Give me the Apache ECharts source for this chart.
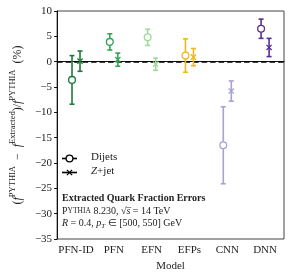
<!DOCTYPE html>
<html><head><meta charset="utf-8">
<script src="https://cdn.jsdelivr.net/npm/echarts@6/dist/echarts.min.js"></script>
<style>html,body{margin:0;padding:0;background:#fff}#c{width:295px;height:277px}</style>
</head><body><div id="c"></div>
<script>
const categories = ['PFN-ID', 'PFN', 'EFN', 'EFPs', 'CNN', 'DNN'];
const colors = ['#1b7a3a', '#35a354', '#a1d99b', '#f0b818', '#a6a3d4', '#58308f'];
const dijetVals = [-3.6, 3.9, 4.8, 1.2, -16.5, 6.5];
const dijetErr = [4.8, 1.6, 1.6, 3.3, 7.6, 1.9];
const zjetVals = [0.1, 0.4, -0.5, 0.9, -5.8, 2.8];
const zjetErr = [2.0, 1.3, 1.2, 1.7, 2.0, 1.8];
const yMin = -35, yMax = 10, yStep = 5;

const FONT = 'Liberation Serif';

function makeRender(offset, marker) {
  return function (params, api) {
    const ci = api.value(0);
    const c = api.coord([ci, api.value(1)]);
    const lo = api.coord([ci, api.value(2)]);
    const hi = api.coord([ci, api.value(3)]);
    const x = c[0] + offset;
    const col = colors[ci];
    const cap = 2.5;
    const ls = { stroke: col, lineWidth: 1.6 };
    const kids = [
      { type: 'line', shape: { x1: x, y1: lo[1], x2: x, y2: hi[1] }, style: ls },
      { type: 'line', shape: { x1: x - cap, y1: lo[1], x2: x + cap, y2: lo[1] }, style: ls },
      { type: 'line', shape: { x1: x - cap, y1: hi[1], x2: x + cap, y2: hi[1] }, style: ls }
    ];
    if (marker === 'o') {
      kids.push({ type: 'circle', shape: { cx: x, cy: c[1], r: 3.4 }, style: { fill: '#fff', stroke: col, lineWidth: 1.3 } });
    } else {
      const d = 2.6;
      kids.push({ type: 'line', shape: { x1: x - d, y1: c[1] - d, x2: x + d, y2: c[1] + d }, style: { stroke: col, lineWidth: 1.3 } });
      kids.push({ type: 'line', shape: { x1: x - d, y1: c[1] + d, x2: x + d, y2: c[1] - d }, style: { stroke: col, lineWidth: 1.3 } });
    }
    return { type: 'group', children: kids };
  };
}

const dijetData = dijetVals.map((v, i) => [i, v, v - dijetErr[i], v + dijetErr[i]]);
const zjetData = zjetVals.map((v, i) => [i, v, v - zjetErr[i], v + zjetErr[i]]);

const chart = echarts.init(document.getElementById('c'), null, { renderer: 'canvas' });
chart.setOption({
  animation: false,
  grid: { left: 49, right: 11, top: 11, bottom: 38, show: true, borderColor: '#444', borderWidth: 1 },
  xAxis: {
    type: 'category', data: categories, boundaryGap: true,
    axisLine: { lineStyle: { color: '#111', width: 1 } },
    axisTick: { alignWithLabel: true, interval: 0, length: 3, lineStyle: { color: '#111' } },
    axisLabel: { interval: 0, fontFamily: FONT, fontSize: 11, color: '#222', margin: 6 },
    name: 'Model', nameLocation: 'middle', nameGap: 20,
    nameTextStyle: { fontFamily: FONT, fontSize: 11, color: '#222' }
  },
  yAxis: {
    type: 'value', min: yMin, max: yMax, interval: yStep,
    axisLine: { show: true, lineStyle: { color: '#111', width: 1 } },
    axisTick: { show: true, length: 3, lineStyle: { color: '#111' } },
    splitLine: { show: false },
    axisLabel: { fontFamily: FONT, fontSize: 11, color: '#222', margin: 5,
      formatter: v => String(v).replace('-', '\u2212') },
    name: '{p|(}{f|f}{s|PYTHIA}{p|  \u2212  }{f|f}{s|Extracted}{p|)/}{f|f}{s|PYTHIA}{p|  (%)}',
    nameLocation: 'middle', nameGap: 27,
    nameTextStyle: {
      fontFamily: FONT, color: '#222',
      rich: {
        p: { fontFamily: FONT, fontSize: 12, color: '#222', lineHeight: 16, verticalAlign: 'bottom' },
        f: { fontFamily: FONT, fontSize: 12, fontStyle: 'italic', color: '#222', lineHeight: 16, verticalAlign: 'bottom' },
        s: { fontFamily: FONT, fontSize: 8.5, color: '#222', lineHeight: 10, verticalAlign: 'top' }
      }
    }
  },
  graphic: [
    { type: 'line', shape: { x1: 62, y1: 158.5, x2: 77, y2: 158.5 }, style: { stroke: '#000', lineWidth: 1.6 } },
    { type: 'circle', shape: { cx: 69.5, cy: 158.5, r: 3.4 }, style: { fill: '#fff', stroke: '#000', lineWidth: 1.3 } },
    { type: 'text', left: 91, top: 152, style: { text: 'Dijets', font: '11px "Liberation Serif"', fill: '#222' } },
    { type: 'line', shape: { x1: 62, y1: 172.5, x2: 77, y2: 172.5 }, style: { stroke: '#000', lineWidth: 1.6 } },
    { type: 'line', shape: { x1: 66.9, y1: 169.9, x2: 72.1, y2: 175.1 }, style: { stroke: '#000', lineWidth: 1.3 } },
    { type: 'line', shape: { x1: 66.9, y1: 175.1, x2: 72.1, y2: 169.9 }, style: { stroke: '#000', lineWidth: 1.3 } },
    { type: 'text', left: 91, top: 166, style: { text: '{i|Z}+jet', font: '11px "Liberation Serif"', fill: '#222',
      rich: { i: { fontFamily: FONT, fontSize: 11, fontStyle: 'italic', fill: '#222' } } } },
    { type: 'text', left: 62, top: 193, style: { text: 'Extracted Quark Fraction Errors', font: 'bold 10px "Liberation Serif"', fill: '#222' } },
    { type: 'text', left: 62, top: 206, style: {
      text: '{a|P}{b|YTHIA}{a| 8.230, }{a|\u221A}{o|s\u0305}{a| = 14 TeV}',
      font: '10px "Liberation Serif"', fill: '#222',
      rich: {
        a: { fontFamily: FONT, fontSize: 10, fill: '#222' },
        b: { fontFamily: FONT, fontSize: 7.5, fill: '#222' },
        o: { fontFamily: FONT, fontSize: 10, fontStyle: 'italic', fill: '#222' }
      } } },
    { type: 'text', left: 62, top: 218, style: {
      text: '{i|R}{a| = 0.4, }{i|p}{u|T}{a| \u2208 [500, 550] GeV}',
      font: '10px "Liberation Serif"', fill: '#222',
      rich: {
        a: { fontFamily: FONT, fontSize: 10, fill: '#222', lineHeight: 13, verticalAlign: 'middle' },
        i: { fontFamily: FONT, fontSize: 10, fontStyle: 'italic', fill: '#222', lineHeight: 13, verticalAlign: 'middle' },
        u: { fontFamily: FONT, fontSize: 7, fontStyle: 'italic', fill: '#222', lineHeight: 8, verticalAlign: 'bottom' }
      } } }
  ],
  series: [
    { type: 'custom', name: 'Dijets', renderItem: makeRender(-4, 'o'), data: dijetData, z: 3,
      encode: { x: 0, y: [1, 2, 3] },
      markLine: { silent: true, symbol: 'none', label: { show: false }, z: 2,
        lineStyle: { color: '#000', type: [5.5, 3], width: 1.7, opacity: 1 }, data: [{ yAxis: 0 }] } },
    { type: 'custom', name: 'Z+jet', renderItem: makeRender(4, 'x'), data: zjetData, z: 3,
      encode: { x: 0, y: [1, 2, 3] } }
  ]
});
</script></body></html>
